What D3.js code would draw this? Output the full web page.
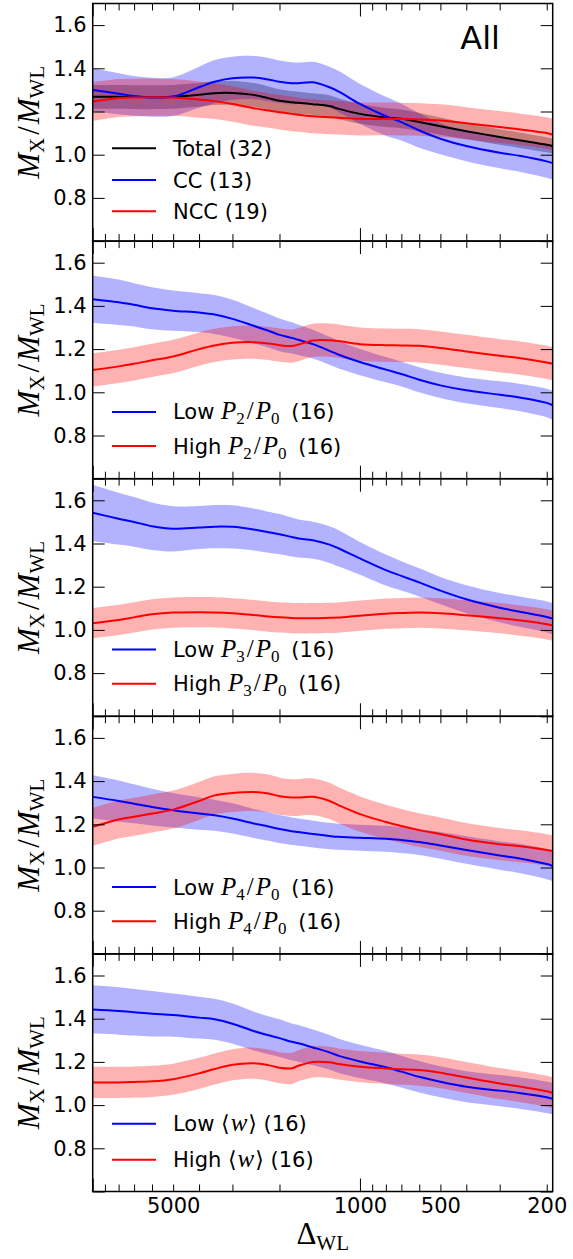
<!DOCTYPE html>
<html><head><meta charset="utf-8">
<script src="https://cdn.jsdelivr.net/npm/d3@7"></script>
<style>
html,body{margin:0;padding:0;background:#fff;}
text{font-family:"DejaVu Sans",sans-serif;}
.math{font-family:"Liberation Serif","DejaVu Serif",serif;}
</style></head>
<body><svg id="chart" width="573" height="1259"></svg>
<script>
// ---------------- data ----------------
const delta = [10000, 8000, 7000, 6000, 5000, 4000, 3500, 3000, 2500, 2200, 2000, 1800, 1700, 1500, 1300, 1200, 1000, 800, 700, 600, 500, 400, 300, 250, 200, 190];

// Panel 1: All
const totalAll    = [1.268,1.268,1.267,1.266,1.268,1.277,1.285,1.286,1.277,1.262,1.250,1.243,1.240,1.234,1.225,1.212,1.189,1.172,1.166,1.151,1.132,1.109,1.082,1.066,1.046,1.040];
const totalAllErr = [0.055,0.055,0.055,0.055,0.055,0.055,0.055,0.055,0.055,0.054,0.053,0.052,0.052,0.050,0.050,0.048,0.046,0.044,0.043,0.042,0.040,0.038,0.036,0.036,0.035,0.035];
const ccAll       = [1.300,1.282,1.272,1.266,1.269,1.312,1.338,1.354,1.357,1.348,1.338,1.331,1.331,1.335,1.312,1.292,1.235,1.178,1.151,1.112,1.074,1.040,1.009,0.994,0.969,0.961];
const ccAllErr    = [0.100,0.095,0.092,0.090,0.090,0.095,0.100,0.100,0.100,0.100,0.098,0.097,0.096,0.095,0.095,0.095,0.092,0.090,0.085,0.080,0.072,0.070,0.072,0.074,0.076,0.077];
const nccAll      = [1.246,1.262,1.265,1.266,1.265,1.255,1.248,1.235,1.215,1.205,1.197,1.189,1.185,1.178,1.173,1.171,1.166,1.166,1.165,1.163,1.158,1.146,1.128,1.117,1.100,1.092];
const nccAllErr   = [0.090,0.088,0.087,0.086,0.085,0.084,0.083,0.082,0.081,0.080,0.080,0.080,0.079,0.079,0.078,0.078,0.077,0.076,0.076,0.075,0.075,0.074,0.074,0.073,0.073,0.073];

// Panel 2: P2/P0
const lowP2      = [1.431,1.417,1.405,1.389,1.378,1.369,1.360,1.340,1.308,1.285,1.266,1.252,1.243,1.223,1.192,1.174,1.140,1.105,1.085,1.058,1.032,1.009,0.989,0.975,0.951,0.940];
const lowP2Err   = [0.110,0.105,0.100,0.097,0.093,0.090,0.090,0.088,0.082,0.078,0.076,0.072,0.070,0.067,0.065,0.064,0.061,0.059,0.058,0.058,0.058,0.060,0.062,0.064,0.066,0.067];
const highP2     = [1.103,1.120,1.132,1.148,1.166,1.200,1.217,1.229,1.232,1.226,1.218,1.214,1.221,1.240,1.241,1.237,1.223,1.218,1.217,1.215,1.205,1.189,1.169,1.158,1.138,1.132];
const highP2Err  = [0.077,0.077,0.077,0.077,0.077,0.077,0.077,0.077,0.077,0.077,0.077,0.077,0.077,0.077,0.077,0.077,0.077,0.077,0.077,0.077,0.077,0.077,0.077,0.077,0.077,0.077];

// Panel 3: P3/P0
const lowP3      = [1.542,1.515,1.500,1.480,1.468,1.474,1.478,1.477,1.465,1.452,1.443,1.430,1.423,1.415,1.395,1.377,1.331,1.277,1.250,1.220,1.182,1.142,1.103,1.083,1.060,1.052];
const lowP3Err   = [0.130,0.120,0.115,0.110,0.105,0.100,0.100,0.100,0.097,0.095,0.093,0.090,0.088,0.086,0.085,0.084,0.076,0.072,0.068,0.065,0.063,0.065,0.068,0.070,0.072,0.073];
const highP3     = [1.031,1.046,1.058,1.072,1.080,1.082,1.081,1.077,1.069,1.062,1.058,1.055,1.054,1.054,1.056,1.057,1.066,1.075,1.078,1.080,1.077,1.068,1.054,1.043,1.026,1.020];
const highP3Err  = [0.070,0.070,0.070,0.070,0.070,0.070,0.070,0.070,0.070,0.070,0.070,0.070,0.070,0.070,0.070,0.070,0.070,0.070,0.070,0.070,0.070,0.070,0.070,0.070,0.070,0.070];

// Panel 4: P4/P0
const lowP4      = [1.327,1.308,1.295,1.280,1.265,1.250,1.242,1.227,1.204,1.190,1.178,1.168,1.164,1.155,1.146,1.142,1.138,1.133,1.127,1.118,1.102,1.081,1.056,1.041,1.016,1.007];
const lowP4Err   = [0.100,0.095,0.090,0.085,0.080,0.075,0.072,0.070,0.067,0.066,0.065,0.064,0.063,0.062,0.061,0.060,0.060,0.060,0.060,0.060,0.062,0.064,0.066,0.068,0.070,0.070];
const highP4     = [1.188,1.222,1.235,1.250,1.268,1.308,1.334,1.345,1.350,1.343,1.330,1.324,1.324,1.327,1.308,1.288,1.247,1.211,1.192,1.173,1.155,1.130,1.108,1.098,1.081,1.076];
const highP4Err  = [0.088,0.088,0.088,0.088,0.088,0.088,0.088,0.088,0.088,0.087,0.086,0.085,0.085,0.085,0.084,0.083,0.082,0.080,0.079,0.078,0.077,0.076,0.075,0.074,0.073,0.073];

// Panel 5: <w>
const lowW       = [1.443,1.436,1.430,1.423,1.417,1.405,1.397,1.377,1.343,1.323,1.310,1.293,1.286,1.267,1.244,1.228,1.202,1.175,1.155,1.131,1.108,1.085,1.067,1.055,1.036,1.029];
const lowWErr    = [0.112,0.110,0.108,0.105,0.100,0.097,0.095,0.093,0.090,0.088,0.087,0.085,0.085,0.083,0.080,0.079,0.077,0.075,0.074,0.073,0.072,0.072,0.072,0.073,0.073,0.073];
const highW      = [1.105,1.105,1.107,1.110,1.120,1.147,1.167,1.187,1.194,1.185,1.173,1.170,1.182,1.200,1.198,1.190,1.178,1.170,1.166,1.162,1.150,1.128,1.100,1.085,1.064,1.056];
const highWErr   = [0.072,0.072,0.072,0.072,0.072,0.072,0.072,0.072,0.072,0.072,0.072,0.072,0.072,0.072,0.072,0.072,0.072,0.072,0.072,0.072,0.072,0.072,0.072,0.072,0.072,0.072];

// ticks
const yTicks = [0.6, 0.8, 1.0, 1.2, 1.4, 1.6];
const xMajorTicks = [10000, 1000];
const xMinorTicks = [9000, 8000, 7000, 6000, 5000, 4000, 3000, 2000, 900, 800, 700, 600, 500, 400, 300, 200];
const xTickLabels = [5000, 1000, 500, 200];

// ---------------- layout ----------------
const svg = d3.select("#chart");
const left = 92.7, right = 552.7, top0 = 3.5, ph = 237.6;
const x = d3.scaleLog().domain([10000, 190]).range([left, right]);

const BLUE = "#0000ff", RED = "#ff0000", BLACK = "#000000";

const ratio = (n) => [{m: "P"}, {s: n}, {m: "/", up: true, dx: 2}, {m: "P", dx: 2}, {s: "0"}];

const panels = [
  {label: "All", series: [
    {v: totalAll, e: totalAllErr, c: BLACK, name: [{t: "Total (32)"}]},
    {v: ccAll, e: ccAllErr, c: BLUE, name: [{t: "CC (13)"}]},
    {v: nccAll, e: nccAllErr, c: RED, name: [{t: "NCC (19)"}]}
  ], legY: [144.8, 176.5, 207.8]},
  {series: [
    {v: lowP2, e: lowP2Err, c: BLUE, name: [{t: "Low "}, ...ratio("2"), {t: " (16)", dx: 5}]},
    {v: highP2, e: highP2Err, c: RED, name: [{t: "High "}, ...ratio("2"), {t: " (16)", dx: 5}]}
  ], legY: [170.8, 205]},
  {series: [
    {v: lowP3, e: lowP3Err, c: BLUE, name: [{t: "Low "}, ...ratio("3"), {t: " (16)", dx: 5}]},
    {v: highP3, e: highP3Err, c: RED, name: [{t: "High "}, ...ratio("3"), {t: " (16)", dx: 5}]}
  ], legY: [170.8, 205]},
  {series: [
    {v: lowP4, e: lowP4Err, c: BLUE, name: [{t: "Low "}, ...ratio("4"), {t: " (16)", dx: 5}]},
    {v: highP4, e: highP4Err, c: RED, name: [{t: "High "}, ...ratio("4"), {t: " (16)", dx: 5}]}
  ], legY: [170.8, 205]},
  {series: [
    {v: lowW, e: lowWErr, c: BLUE, name: [{t: "Low "}, {b: "\u27E8"}, {m: "w", dx: 1}, {b: "\u27E9", dx: 1}, {t: " (16)"}]},
    {v: highW, e: highWErr, c: RED, name: [{t: "High "}, {b: "\u27E8"}, {m: "w", dx: 1}, {b: "\u27E9", dx: 1}, {t: " (16)"}]}
  ], legY: [169.8, 205.8]}
];

const defs = svg.append("defs");

panels.forEach((p, i) => {
  const y0 = top0 + i * ph;
  const y = d3.scaleLinear().domain([0.6, 1.7]).range([y0 + ph, y0]);
  const g = svg.append("g");
  const clipId = "clip" + i;
  defs.append("clipPath").attr("id", clipId).append("rect")
    .attr("x", left).attr("y", y0).attr("width", right - left).attr("height", ph);

  const plot = g.append("g").attr("clip-path", `url(#${clipId})`);
  const rows = p.series.map(s => delta.map((d, k) => ({d: d, v: s.v[k], e: s.e[k]})));

  const area = d3.area().x(d => x(d.d)).y0(d => y(d.v - d.e)).y1(d => y(d.v + d.e)).curve(d3.curveCatmullRom.alpha(0.5));
  const line = d3.line().x(d => x(d.d)).y(d => y(d.v)).curve(d3.curveCatmullRom.alpha(0.5));

  p.series.forEach((s, k) => {
    plot.append("path").attr("d", area(rows[k])).attr("fill", s.c).attr("fill-opacity", 0.3).attr("stroke", "none");
  });
  p.series.forEach((s, k) => {
    plot.append("path").attr("d", line(rows[k])).attr("fill", "none").attr("stroke", s.c).attr("stroke-width", 2);
  });

  // axes (inward ticks)
  const tickStyle = sel => { sel.select(".domain").remove(); sel.selectAll("line").attr("stroke", "#000").attr("stroke-width", 1); };
  g.append("g").attr("transform", `translate(0,${y0 + ph})`)
    .call(d3.axisBottom(x).tickValues(xMinorTicks).tickSize(-7).tickFormat("")).call(tickStyle);
  g.append("g").attr("transform", `translate(0,${y0 + ph})`)
    .call(d3.axisBottom(x).tickValues(xMajorTicks).tickSize(-13).tickFormat("")).call(tickStyle);
  g.append("g").attr("transform", `translate(0,${y0})`)
    .call(d3.axisTop(x).tickValues(xMinorTicks).tickSize(-7).tickFormat("")).call(tickStyle);
  g.append("g").attr("transform", `translate(0,${y0})`)
    .call(d3.axisTop(x).tickValues(xMajorTicks).tickSize(-13).tickFormat("")).call(tickStyle);

  const yl = g.append("g").attr("transform", `translate(${left},0)`)
    .call(d3.axisLeft(y).tickValues(yTicks).tickSize(-12).tickPadding(6).tickFormat(d3.format(".1f")));
  yl.call(tickStyle);
  yl.selectAll("text").attr("font-size", 21).attr("fill", "#000").attr("font-family", "DejaVu Sans")
    .filter(d => d < 0.7).remove();
  g.append("g").attr("transform", `translate(${right},0)`)
    .call(d3.axisRight(y).tickValues(yTicks).tickSize(-12).tickFormat("")).call(tickStyle);

  // frame
  g.append("rect").attr("x", left).attr("y", y0).attr("width", right - left).attr("height", ph)
    .attr("fill", "none").attr("stroke", "#000").attr("stroke-width", 1.5);

  // y label
  const yc = y0 + ph / 2;
  const lab = g.append("text").attr("class", "math")
    .attr("transform", `translate(39,${yc}) rotate(-90)`)
    .attr("text-anchor", "middle").attr("font-size", 31);
  lab.append("tspan").attr("font-style", "italic").text("M");
  lab.append("tspan").attr("font-size", 21).attr("dy", 5).text("X");
  lab.append("tspan").attr("dy", -5).attr("dx", 3).text("/");
  lab.append("tspan").attr("font-style", "italic").attr("dx", 2).text("M");
  lab.append("tspan").attr("font-size", 21).attr("dy", 5).text("WL");

  // panel label
  if (p.label) {
    g.append("text").attr("x", 500).attr("y", y0 + 45).attr("text-anchor", "end")
      .attr("font-size", 32).text(p.label);
  }

  // legend
  p.series.forEach((s, k) => {
    const ly = y0 + p.legY[k];
    g.append("line").attr("x1", 112).attr("x2", 156).attr("y1", ly).attr("y2", ly)
      .attr("stroke", s.c).attr("stroke-width", 2);
    const t = g.append("text").attr("x", 173).attr("y", ly + 7.5).attr("font-size", 21);
    let sub = false;
    s.name.forEach(part => {
      const ts = t.append("tspan");
      let dy = 0;
      if (part.s !== undefined) { if (!sub) dy = 5; sub = true; }
      else if (sub) { dy = -5; sub = false; }
      if (dy) ts.attr("dy", dy);
      if (part.dx) ts.attr("dx", part.dx);
      if (part.t !== undefined) ts.text(part.t);
      else if (part.m !== undefined) { ts.attr("class", "math").attr("font-size", 25).text(part.m); if (!part.up) ts.attr("font-style", "italic"); }
      else if (part.s !== undefined) ts.attr("class", "math").attr("font-size", 17).text(part.s);
      else if (part.b !== undefined) ts.attr("font-family", "DejaVu Sans").attr("font-size", 22).text(part.b);
    });
  });

  // x tick labels on last panel
  if (i === panels.length - 1) {
    const xl = g.append("g").attr("transform", `translate(0,${y0 + ph})`)
      .call(d3.axisBottom(x).tickValues(xTickLabels).tickSize(0).tickPadding(7).tickFormat(d3.format("d")));
    xl.select(".domain").remove();
    xl.selectAll("text").attr("font-size", 21).attr("fill", "#000").attr("font-family", "DejaVu Sans");
    const xlab = svg.append("text").attr("class", "math").attr("x", (left + right) / 2).attr("y", y0 + ph + 52)
      .attr("text-anchor", "middle").attr("font-size", 31);
    xlab.append("tspan").text("\u0394");
    xlab.append("tspan").attr("font-size", 21).attr("dy", 6).text("WL");
  }
});
</script></body></html>
